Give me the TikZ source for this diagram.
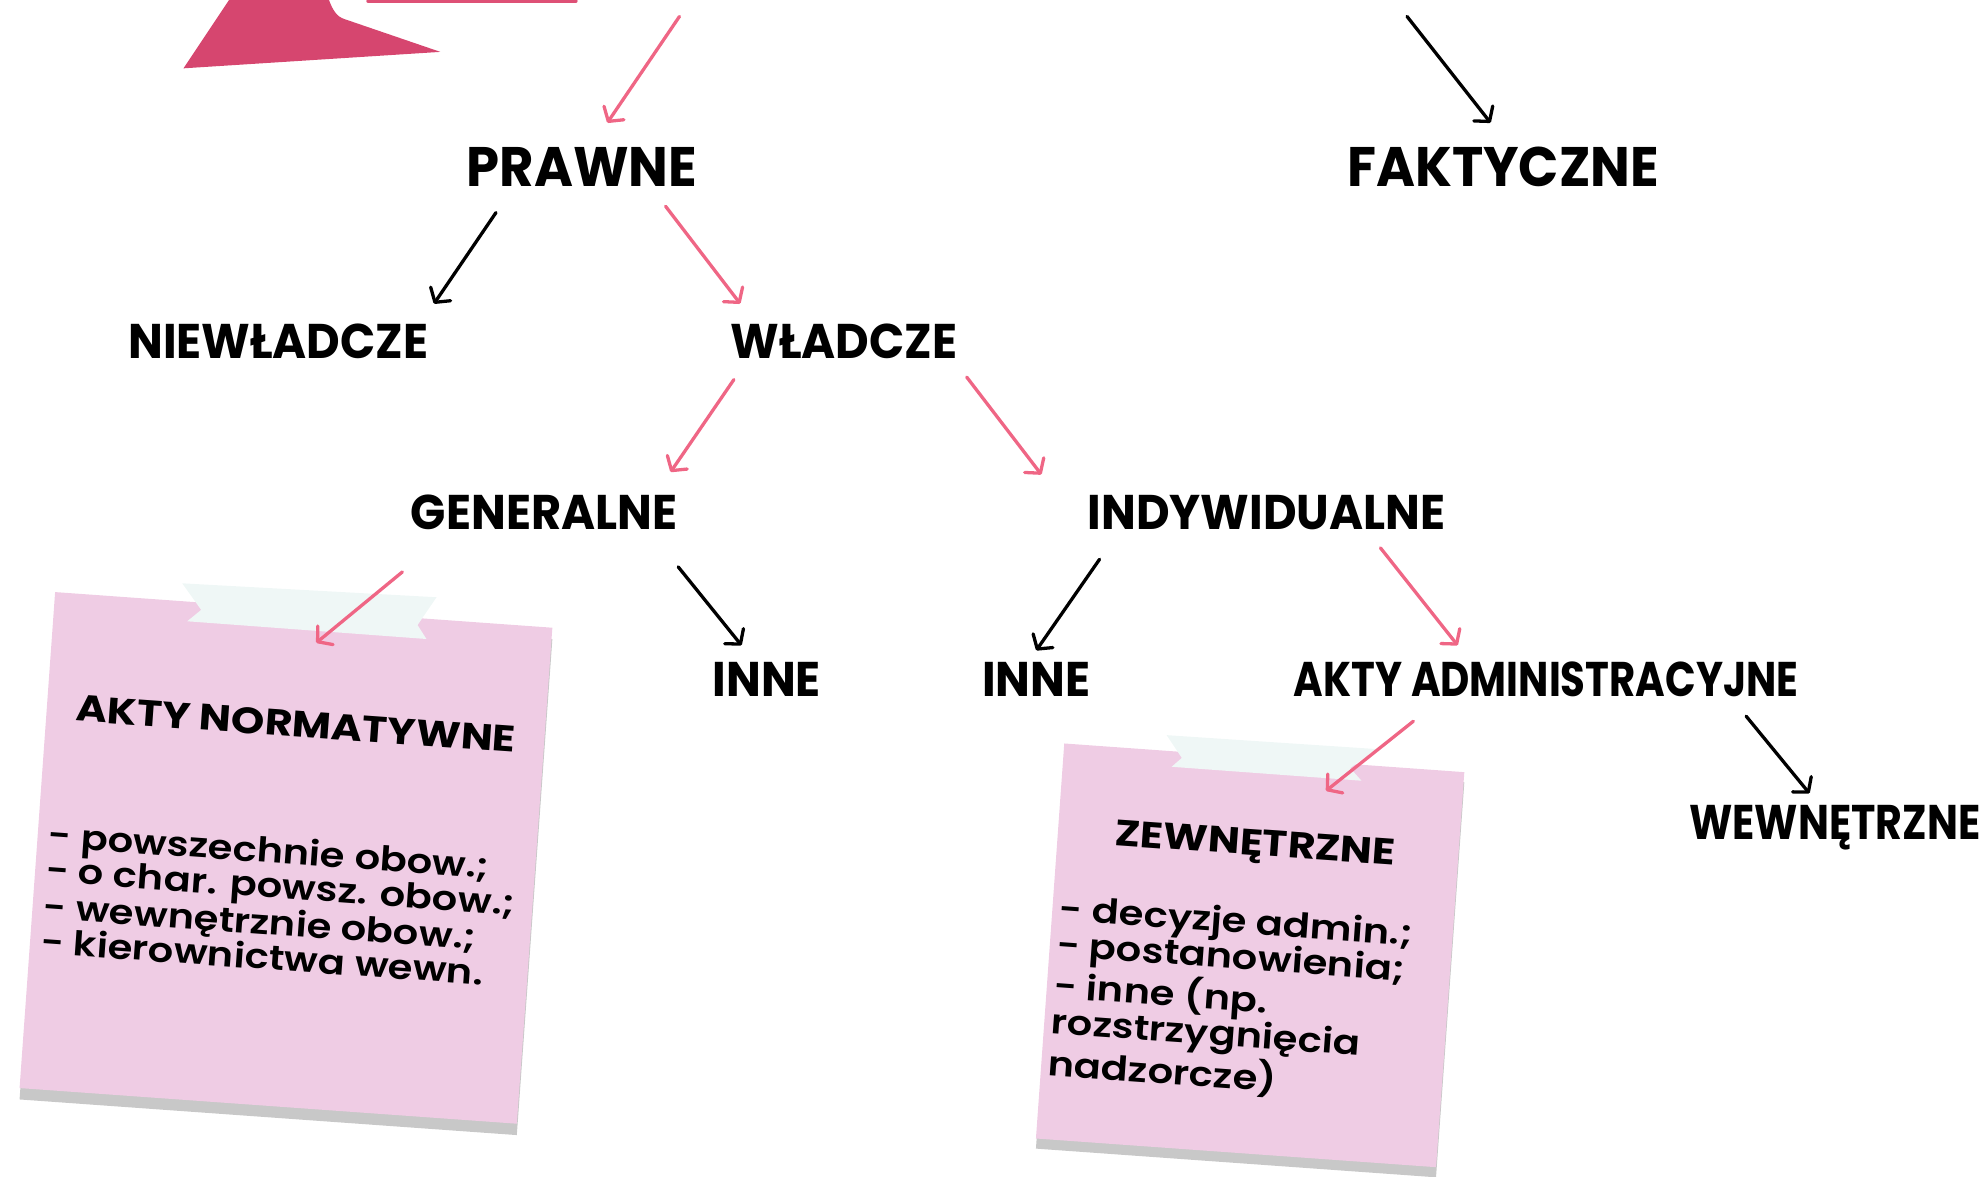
\documentclass[tikz,border=0pt]{standalone}
\usepackage{fontspec}
\setmainfont{Poppins}
\newfontfamily\headfont{Poppins Bold}[FakeStretch=0.95]
\newfontfamily\notefont{Poppins SemiBold}
\usetikzlibrary{arrows.meta,positioning,shapes}
\definecolor{arrowpink}{HTML}{EF6685}
\definecolor{ribbonpink}{HTML}{D6466F}
\definecolor{notepink}{HTML}{EFCCE4}
\definecolor{shadowgrey}{HTML}{C8C8C8}
\definecolor{tapemint}{HTML}{EFF7F6}

\begin{document}
\begin{tikzpicture}[x=1pt, y=-1pt, line cap=round,
    >={Straight Barb[length=8pt,width=19pt,round]},
    every node/.style={inner sep=0pt},
    heading/.style={font=\headfont\fontsize{38.5}{40}\selectfont},
    bigheading/.style={font=\headfont\fontsize{44}{46}\selectfont},
    pinkarrow/.style={->, draw=arrowpink, line width=2.6pt},
    blackarrow/.style={->, draw=black, line width=2.6pt},
    note/.style={fill=notepink, rotate=-4.1},
    noteshadow/.style={fill=shadowgrey, rotate=-4.1},
    notetitle/.style={font=\headfont\fontsize{29}{30}\selectfont, rotate=-4.1, xscale=1.22},
    notebody/.style={font=\notefont\fontsize{27}{27.5}\selectfont, align=left, rotate=-4.1, xscale=1.17}
    ]
\useasboundingbox (0,0) rectangle (1568,930);
% \draw[help lines, step=100] (0,0) grid (1568,930);

% ribbon cut off at the top
\fill[ribbonpink] (145,54) -- (181,0) -- (260,0) .. controls (263,8) and (266,13) .. (272,15) -- (348,41) -- cycle;
\draw[ribbonpink!70!arrowpink, line width=3pt] (291,1) -- (455,1);
\coordinate (topL) at (537,13);
\coordinate (topR) at (1112,13);

% headings
\node[bigheading] (prawne)    at (460,132)  {PRAWNE};
\node[bigheading] (faktyczne) at (1188,132) {FAKTYCZNE};
\node[heading] (niewladcze)   at (220,270)  {NIEWŁADCZE};
\node[heading] (wladcze)      at (667,270)  {WŁADCZE};
\node[heading] (generalne)    at (430,405)  {GENERALNE};
\node[heading] (indywidualne) at (1001,405) {INDYWIDUALNE};
\node[heading] (inneG)        at (606,537)  {INNE};
\node[heading] (inneI)        at (819,537)  {INNE};
\node[heading, xscale=0.87] (aktyadm) at (1222,537) {AKTY ADMINISTRACYJNE};
\node[heading, xscale=0.89] (wewn)    at (1450,654) {WEWNĘTRZNE};

% sticky notes
\node[noteshadow, minimum width=394pt, minimum height=393pt] (shadow1) at (226,687) {};
\node[note, minimum width=394pt, minimum height=393pt] (note1) at (226,678) {};
\fill[tapemint] (144,461) -- (345,472) -- (330,494) -- (337,505) -- (148,491) -- (159,482) -- cycle;
\node[notetitle] (normtitle) at (234,572) {AKTY NORMATYWNE};
\node[notebody, anchor=north west] (normbody) at (39,648)
  {- powszechnie obow.;\\- o char. powsz. obow.;\\- wewnętrznie obow.;\\- kierownictwa wewn.};

\node[noteshadow, minimum width=317pt, minimum height=313pt] (shadow2) at (988,763) {};
\node[note, minimum width=317pt, minimum height=313pt] (note2) at (988,755) {};
\fill[tapemint] (922,581) -- (1088,592) -- (1067,607) -- (1076,617) -- (926,606) -- (934,599) -- cycle;
\node[notetitle] (zewntitle) at (992,669) {ZEWNĘTRZNE};
\node[notebody, font=\notefont\fontsize{27}{28.3}\selectfont, anchor=north west] (zewnbody) at (838,706)
  {- decyzje admin.;\\- postanowienia;\\- inne (np.\\rozstrzygnięcia\\nadzorcze)};

% connectors
\draw[pinkarrow]  (topL) -- ([shift={(20,-35)}]prawne.center);
\draw[blackarrow] (topR) -- ([shift={(-10,-35)}]faktyczne.center);
\draw[blackarrow] ([shift={(-68,36)}]prawne.center) -- ([shift={(123,-30)}]niewladcze.center);
\draw[pinkarrow]  ([shift={(66,31)}]prawne.center) -- ([shift={(-82,-30)}]wladcze.center);
\draw[pinkarrow]  ([shift={(-87,30)}]wladcze.center) -- ([shift={(100,-32)}]generalne.center);
\draw[pinkarrow]  ([shift={(97,28)}]wladcze.center) -- ([shift={(-178,-30)}]indywidualne.center);
\draw[pinkarrow]  ([shift={(-112,47)}]generalne.center) -- ([shift={(24,-170)}]note1.center);
\draw[blackarrow] ([shift={(106,43)}]generalne.center) -- ([shift={(-20,-27)}]inneG.center);
\draw[blackarrow] ([shift={(-132,37)}]indywidualne.center) -- ([shift={(0,-23)}]inneI.center);
\draw[pinkarrow]  ([shift={(90,28)}]indywidualne.center) -- ([shift={(-70,-27)}]aktyadm.center);
\draw[pinkarrow]  ([shift={(-105,33)}]aktyadm.center) -- ([shift={(60,-130)}]note2.center);
\draw[blackarrow] ([shift={(158,29)}]aktyadm.center) -- ([shift={(-20,-27)}]wewn.center);
\end{tikzpicture}
\end{document}
